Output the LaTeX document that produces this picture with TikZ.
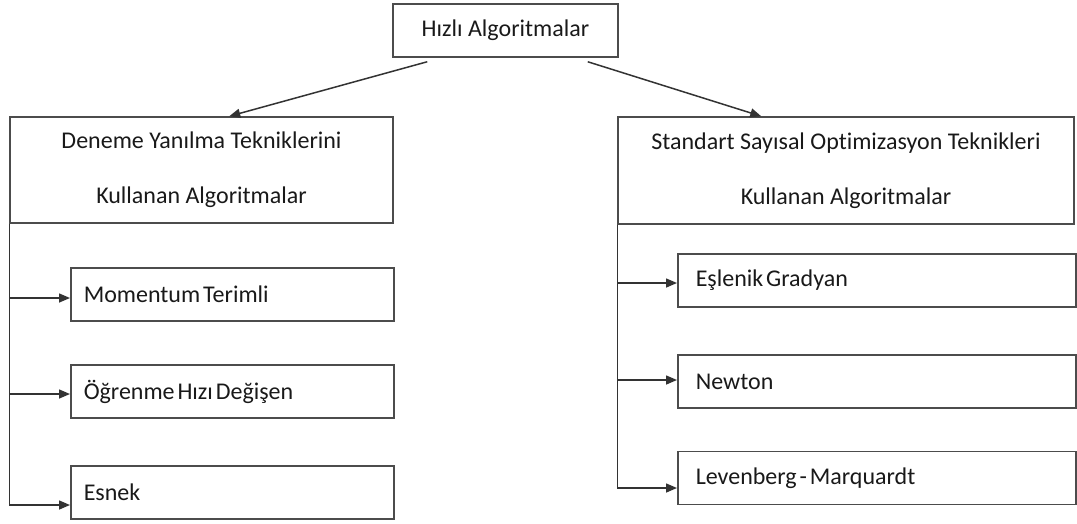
\documentclass[tikz,border=0pt]{standalone}
\usepackage{fontspec}
\setmainfont{Carlito}[Ligatures=CommonOff]
\usetikzlibrary{positioning,
        arrows.meta}

\begin{document}
\begin{tikzpicture}[x=1pt,y=-1pt,
        every node/.style={font=\fontsize{24}{55}\selectfont,text=black!90},
        box/.style={draw=black!70,line width=1.5pt,rectangle,inner sep=0pt},
        item/.style={box,minimum height=53pt,align=left,anchor=west,
                execute at begin node={\spaceskip=0.12em\relax}},
        conn/.style={draw=black!80,line width=1.5pt,-{Triangle[length=11pt,width=9pt]}}]
            \useasboundingbox (0,0) rectangle (1077,523);

            \node [box,minimum width=225pt,minimum height=53pt] (hizli) at (505.5,30.5) {Hızlı Algoritmalar};
            \node [box,minimum width=383pt,minimum height=106pt,align=center] (deneme) at (201.5,170) {Deneme Yanılma Tekniklerini\\Kullanan Algoritmalar};
            \node [box,minimum width=456pt,minimum height=107pt,align=center] (standart) at (846,170.5) {Standart Sayısal Optimizasyon Teknikleri\\Kullanan Algoritmalar};

            \node [item,inner xsep=13pt,text width=297pt] (momentum) at (70,294.5) {Momentum Terimli};
            \node [item,inner xsep=13pt,text width=297pt] (ogrenme) at (70,391.5) {Öğrenme Hızı Değişen};
            \node [item,inner xsep=13pt,text width=297pt] (esnek) at (70,492.5) {Esnek};

            \node [item,inner xsep=18pt,text width=362pt] (eslenik) at (677,280.5) {Eşlenik Gradyan};
            \node [item,inner xsep=18pt,text width=362pt] (newton) at (677,381.5) {Newton};
            \node [item,inner xsep=18pt,text width=362pt] (levenberg) at (677,478) {Levenberg - Marquardt};

            \draw [conn] ([shift={(35,4)}]hizli.south west) -- ([xshift=220pt]deneme.north west);
            \draw [conn] ([shift={(-31,4)}]hizli.south east) -- ([xshift=144pt]standart.north west);

            \coordinate (a1) at ([yshift=-3.5pt]momentum.west);
            \coordinate (a2) at ([yshift=-2.5pt]ogrenme.west);
            \draw [conn] (deneme.south west) |- ([yshift=-12.5pt]esnek.west);
            \draw [conn] (a1 -| deneme.west) -- (a1);
            \draw [conn] (a2 -| deneme.west) -- (a2);

            \coordinate (b1) at ([yshift=-2.5pt]eslenik.west);
            \coordinate (b2) at ([yshift=1.5pt]newton.west);
            \draw [conn] (standart.south west) |- ([yshift=-10pt]levenberg.west);
            \draw [conn] (b1 -| standart.west) -- (b1);
            \draw [conn] (b2 -| standart.west) -- (b2);
        \end{tikzpicture}
\end{document}
